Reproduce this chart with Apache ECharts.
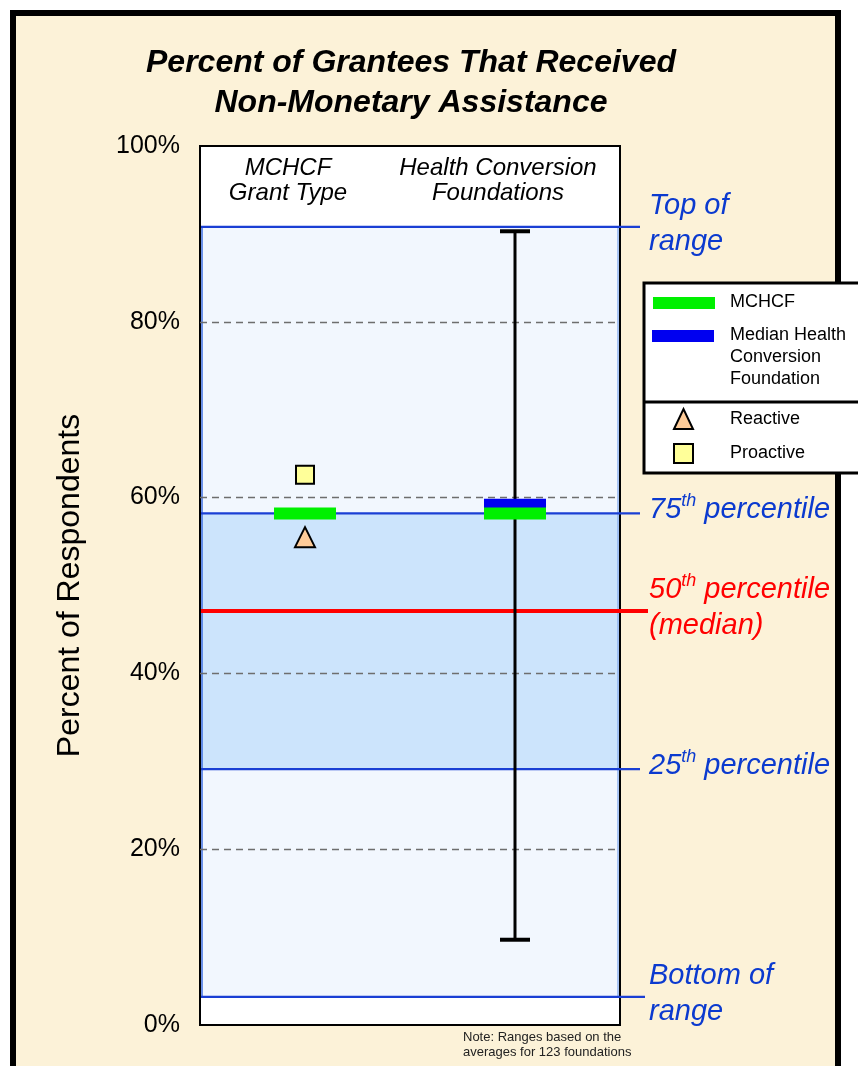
<!DOCTYPE html>
<html>
<head>
<meta charset="utf-8">
<title>Percent of Grantees That Received Non-Monetary Assistance</title>
<script src="https://cdn.jsdelivr.net/npm/echarts@6/dist/echarts.min.js"></script>
<style>
  html, body { margin: 0; padding: 0; background: #ffffff; }
  #chart { width: 858px; height: 1066px; }
</style>
</head>
<body>
<div id="chart"></div>
<script>
// ---- data ----
const columns = ['MCHCF\nGrant Type', 'Health Conversion\nFoundations'];
const yTicks = [0, 20, 40, 60, 80, 100];

// Range of the 123 health conversion foundations
const levelNames = ['Top of\nrange', '75th percentile', '50th percentile\n(median)', '25th percentile', 'Bottom of\nrange'];
const levelValues = [90.8, 58.2, 47.1, 29.1, 3.2];

// Markers per column (column index, percent)
const mchcfValues = [[0, 58.2], [1, 58.2]];
const medianHcfValues = [[1, 59.3]];
const reactiveValues = [[0, 55.5]];
const proactiveValues = [[0, 62.6]];

// Min / max whisker for the foundations column (column index, low, high)
const hcfWhisker = [[1, 9.7, 90.3]];

// ---- styling ----
const FONT = '"Liberation Sans", Arial, sans-serif';
const CREAM = '#FCF2D8';
const BLUE_LINE = '#1A3FD4';
const BLUE_TEXT = '#0B3ACF';
const RED = '#FF0000';
const GREEN = '#00F000';
const BLUE_BAR = '#0000F0';
const BAND_LIGHT = '#F2F7FE';
const BAND_IQR = '#CCE4FC';

const chart = echarts.init(document.getElementById('chart'), null, { renderer: 'canvas' });

// bands derived from the levels: top..75th, 75th..25th, 25th..bottom
const bands = [
  [levelValues[0], levelValues[1], 0],
  [levelValues[1], levelValues[3], 1],
  [levelValues[3], levelValues[4], 0]
];

const levelData = levelValues.map((v, i) => [i, v]);

function levelLabel(name) {
  // turn "75th ..." into rich text with a raised ordinal suffix
  return name.split('\n').map(line => {
    const m = line.match(/^(\d+)(th)(.*)$/);
    if (m) return '{n|' + m[1] + '}{s|' + m[2] + '}{n|' + m[3] + '}';
    return '{n|' + line + '}';
  }).join('\n');
}

const option = {
  backgroundColor: '#ffffff',
  animation: false,
  title: {
    text: 'Percent of Grantees That Received\nNon-Monetary Assistance',
    left: 406,
    top: 38,
    textAlign: 'center',
    textStyle: {
      fontFamily: FONT,
      fontSize: 32,
      fontWeight: 'bold',
      fontStyle: 'italic',
      color: '#000',
      lineHeight: 40
    }
  },
  grid: {
    left: 200,
    right: 238,
    top: 146,
    bottom: 41,
    show: true,
    backgroundColor: '#ffffff',
    borderColor: '#000000',
    borderWidth: 2,
    z: 0
  },
  xAxis: {
    type: 'category',
    data: columns,
    position: 'top',
    boundaryGap: true,
    axisLine: { show: false },
    axisTick: { show: false },
    splitLine: { show: false },
    axisLabel: {
      inside: true,
      interval: 0,
      margin: 10,
      padding: [0, 34, 0, 0],
      fontFamily: FONT,
      fontSize: 24,
      fontStyle: 'italic',
      color: '#000',
      lineHeight: 25,
      verticalAlign: 'top'
    },
    z: 5
  },
  yAxis: {
    type: 'value',
    min: 0,
    max: 100,
    interval: 20,
    name: 'Percent of Respondents',
    nameLocation: 'middle',
    nameGap: 114,
    nameTextStyle: { fontFamily: FONT, fontSize: 32, color: '#000' },
    axisLine: { show: false },
    axisTick: { show: false },
    axisLabel: {
      formatter: '{value}%',
      margin: 20,
      fontFamily: FONT,
      fontSize: 25,
      color: '#000'
    },
    splitLine: {
      show: true,
      showMinLine: false,
      showMaxLine: false,
      lineStyle: { color: '#6E6E6E', width: 1.3, type: [7, 5] }
    },
    z: 2
  },
  graphic: [
    // outer frame
    {
      type: 'rect',
      z: -10,
      silent: true,
      shape: { x: 13, y: 13, width: 825, height: 1120 },
      style: { fill: CREAM, stroke: '#000', lineWidth: 6 }
    },
    // footnote
    {
      type: 'text',
      z: 10,
      left: 463,
      top: 1030,
      style: {
        text: 'Note: Ranges based on the\naverages for 123 foundations',
        fontFamily: FONT,
        fontSize: 13,
        lineHeight: 15,
        fill: '#222'
      }
    },
    // legend box
    {
      type: 'group',
      z: 100,
      children: [
        {
          type: 'rect',
          shape: { x: 644, y: 283, width: 230, height: 190 },
          style: { fill: '#ffffff', stroke: '#000', lineWidth: 3 }
        },
        {
          type: 'line',
          shape: { x1: 644, y1: 402, x2: 870, y2: 402 },
          style: { stroke: '#000', lineWidth: 3 }
        },
        { type: 'rect', shape: { x: 653, y: 297, width: 62, height: 12 }, style: { fill: GREEN } },
        {
          type: 'text', x: 730, y: 302,
          style: { text: 'MCHCF', fontFamily: FONT, fontSize: 18, fill: '#000', verticalAlign: 'middle' }
        },
        { type: 'rect', shape: { x: 652, y: 330, width: 62, height: 12 }, style: { fill: BLUE_BAR } },
        {
          type: 'text', x: 730, y: 324,
          style: { text: 'Median Health\nConversion\nFoundation', fontFamily: FONT, fontSize: 18, lineHeight: 22, fill: '#000', verticalAlign: 'top' }
        },
        {
          type: 'polygon',
          shape: { points: [[674, 429], [683.5, 409], [693, 429]] },
          style: { fill: '#FFCC99', stroke: '#000', lineWidth: 2, lineJoin: 'miter' }
        },
        {
          type: 'text', x: 730, y: 419,
          style: { text: 'Reactive', fontFamily: FONT, fontSize: 18, fill: '#000', verticalAlign: 'middle' }
        },
        {
          type: 'rect', shape: { x: 674, y: 444, width: 19, height: 19 },
          style: { fill: '#FFFF99', stroke: '#000', lineWidth: 2 }
        },
        {
          type: 'text', x: 730, y: 453,
          style: { text: 'Proactive', fontFamily: FONT, fontSize: 18, fill: '#000', verticalAlign: 'middle' }
        }
      ]
    }
  ],
  series: [
    // shaded range bands
    {
      name: 'range bands',
      type: 'custom',
      z: 1,
      silent: true,
      data: bands,
      renderItem: function (params, api) {
        const cs = params.coordSys;
        const yHi = api.coord([0, api.value(0)])[1];
        const yLo = api.coord([0, api.value(1)])[1];
        const fill = api.value(2) === 1 ? BAND_IQR : BAND_LIGHT;
        return {
          type: 'group',
          children: [
            {
              type: 'rect',
              shape: { x: cs.x + 1, y: yHi, width: cs.width - 2, height: yLo - yHi },
              style: { fill: fill }
            },
            {
              type: 'line',
              shape: { x1: cs.x + 2, y1: yHi, x2: cs.x + 2, y2: yLo },
              style: { stroke: '#3F6FE0', lineWidth: 1.5 }
            },
            {
              type: 'line',
              shape: { x1: cs.x + cs.width - 2, y1: yHi, x2: cs.x + cs.width - 2, y2: yLo },
              style: { stroke: '#8FB3F0', lineWidth: 1.5 }
            }
          ]
        };
      }
    },
    // percentile / range lines with their labels
    {
      name: 'levels',
      type: 'custom',
      z: 3,
      clip: false,
      silent: true,
      data: levelData,
      renderItem: function (params, api) {
        const cs = params.coordSys;
        const i = api.value(0);
        const y = api.coord([0, api.value(1)])[1];
        const isMedian = i === 2;
        const color = isMedian ? RED : BLUE_LINE;
        const textColor = isMedian ? RED : BLUE_TEXT;
        const ext = isMedian ? 28 : (i === 4 ? 25 : 20);
        return {
          type: 'group',
          children: [
            {
              type: 'line',
              shape: { x1: cs.x + 1, y1: y, x2: cs.x + cs.width + ext, y2: y },
              style: { stroke: color, lineWidth: isMedian ? 4 : 2.2 }
            },
            {
              type: 'text',
              x: cs.x + cs.width + 29,
              y: y - 3,
              style: {
                text: levelLabel(levelNames[i]),
                verticalAlign: 'middle',
                align: 'left',
                fontFamily: FONT,
                fontStyle: 'italic',
                fontSize: 29,
                fill: textColor,
                rich: {
                  n: { fontFamily: FONT, fontStyle: 'italic', fontSize: 29, lineHeight: 36, fill: textColor },
                  s: { fontFamily: FONT, fontStyle: 'italic', fontSize: 18, lineHeight: 36, verticalAlign: 'top', fill: textColor, padding: [0, 0, 14, 0] }
                }
              }
            }
          ]
        };
      }
    },
    // min-max whisker of the foundations
    {
      name: 'Health conversion range',
      type: 'custom',
      z: 4,
      silent: true,
      data: hcfWhisker,
      renderItem: function (params, api) {
        const x = api.coord([api.value(0), 0])[0];
        const yLo = api.coord([api.value(0), api.value(1)])[1];
        const yHi = api.coord([api.value(0), api.value(2)])[1];
        const cap = 15;
        return {
          type: 'group',
          children: [
            { type: 'line', shape: { x1: x, y1: yHi, x2: x, y2: yLo }, style: { stroke: '#000', lineWidth: 3 } },
            { type: 'line', shape: { x1: x - cap, y1: yHi, x2: x + cap, y2: yHi }, style: { stroke: '#000', lineWidth: 4 } },
            { type: 'line', shape: { x1: x - cap, y1: yLo, x2: x + cap, y2: yLo }, style: { stroke: '#000', lineWidth: 4 } }
          ]
        };
      }
    },
    {
      name: 'Median Health Conversion Foundation',
      type: 'scatter',
      z: 5,
      symbol: 'rect',
      symbolSize: [62, 10],
      itemStyle: { color: BLUE_BAR, opacity: 1 },
      data: medianHcfValues
    },
    {
      name: 'MCHCF',
      type: 'scatter',
      z: 6,
      symbol: 'rect',
      symbolSize: [62, 12],
      itemStyle: { color: GREEN, opacity: 1 },
      data: mchcfValues
    },
    {
      name: 'Reactive',
      type: 'scatter',
      z: 7,
      symbol: 'triangle',
      symbolSize: [20, 20],
      itemStyle: { color: '#FFCC99', borderColor: '#000', borderWidth: 2, opacity: 1 },
      data: reactiveValues
    },
    {
      name: 'Proactive',
      type: 'scatter',
      z: 7,
      symbol: 'rect',
      symbolSize: [18, 18],
      itemStyle: { color: '#FFFF99', borderColor: '#000', borderWidth: 2, opacity: 1 },
      data: proactiveValues
    }
  ]
};

chart.setOption(option);
</script>
</body>
</html>
